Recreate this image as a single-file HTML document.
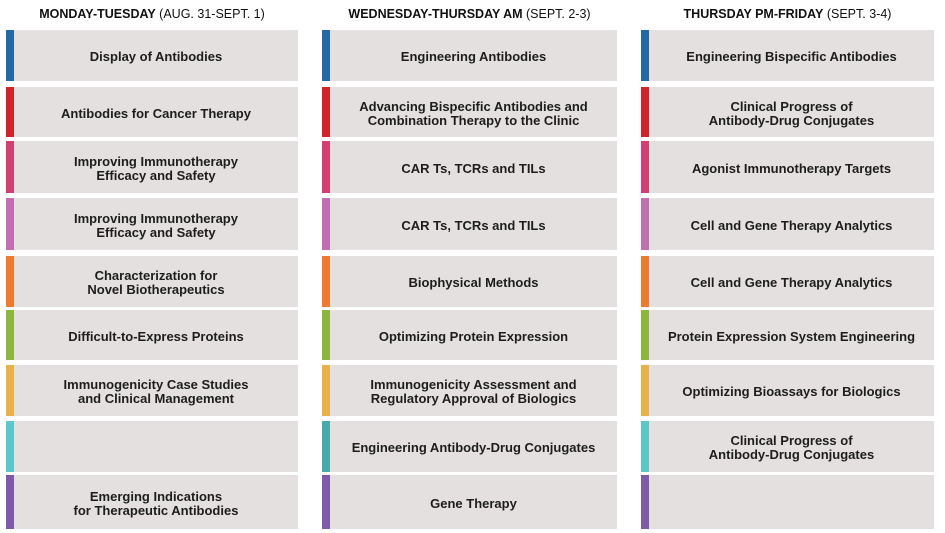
<!DOCTYPE html>
<html><head><style>
body{margin:0;width:945px;height:533px;background:#fff;position:relative;overflow:hidden;font-family:"Liberation Sans",sans-serif;}
.h{position:absolute;top:7px;font-size:12.5px;color:#111;text-align:center;white-space:nowrap}
.h b{font-weight:bold}
.c{position:absolute;background:#e3e0df;display:flex;align-items:center;justify-content:center;text-align:center;font-size:13px;font-weight:bold;color:#1d1d1d;line-height:14px}
.bar{position:absolute;width:8px}
</style></head><body>
<div class="h" style="left:6px;width:292px"><b>MONDAY-TUESDAY</b> (AUG. 31-SEPT. 1)</div>
<div class="h" style="left:322px;width:295px"><b>WEDNESDAY-THURSDAY AM</b> (SEPT. 2-3)</div>
<div class="h" style="left:641px;width:293px"><b>THURSDAY PM-FRIDAY</b> (SEPT. 3-4)</div>
<div id="g"></div>
<script>
var tops=[30,87,141,198,256,310,365,421,475],bots=[81,137,193,250,307,360,416,472,529];
var cols=[[6,298],[322,617],[641,934]];
var colors=[["#2469a6","#d2232a","#d33f73","#c06fb3","#ee7a30","#8cb63d","#e8b24a","#5cc7ca","#7f5aa8"],
["#2469a6","#d2232a","#d33f73","#c06fb3","#ee7a30","#8cb63d","#e8b24a","#4aa9aa","#7f5aa8"],
["#2469a6","#d2232a","#d33f73","#c06fb3","#ee7a30","#8cb63d","#e8b24a","#5cc7ca","#7f5aa8"]];
var t=[["Display of Antibodies","Antibodies for Cancer Therapy","Improving Immunotherapy<br>Efficacy and Safety","Improving Immunotherapy<br>Efficacy and Safety","Characterization for<br>Novel Biotherapeutics","Difficult-to-Express Proteins","Immunogenicity Case Studies<br>and Clinical Management","","Emerging Indications<br>for Therapeutic Antibodies"],
["Engineering Antibodies","Advancing Bispecific Antibodies and<br>Combination Therapy to the Clinic","CAR Ts, TCRs and TILs","CAR Ts, TCRs and TILs","Biophysical Methods","Optimizing Protein Expression","Immunogenicity Assessment and<br>Regulatory Approval of Biologics","Engineering Antibody-Drug Conjugates","Gene Therapy"],
["Engineering Bispecific Antibodies","Clinical Progress of<br>Antibody-Drug Conjugates","Agonist Immunotherapy Targets","Cell and Gene Therapy Analytics","Cell and Gene Therapy Analytics","Protein Expression System Engineering","Optimizing Bioassays for Biologics","Clinical Progress of<br>Antibody-Drug Conjugates",""]];
var h="";
for(var c=0;c<3;c++)for(var r=0;r<9;r++){
var x=cols[c][0],w=cols[c][1]-x,y=tops[r],hh=bots[r]-y;
h+='<div class="c" style="left:'+x+'px;top:'+y+'px;width:'+w+'px;height:'+hh+'px"><div style="padding-left:8px;padding-top:3px">'+t[c][r]+'</div></div>';
h+='<div class="bar" style="left:'+x+'px;top:'+y+'px;height:'+hh+'px;background:'+colors[c][r]+'"></div>';}
document.getElementById('g').innerHTML=h;
</script>
</body></html>
